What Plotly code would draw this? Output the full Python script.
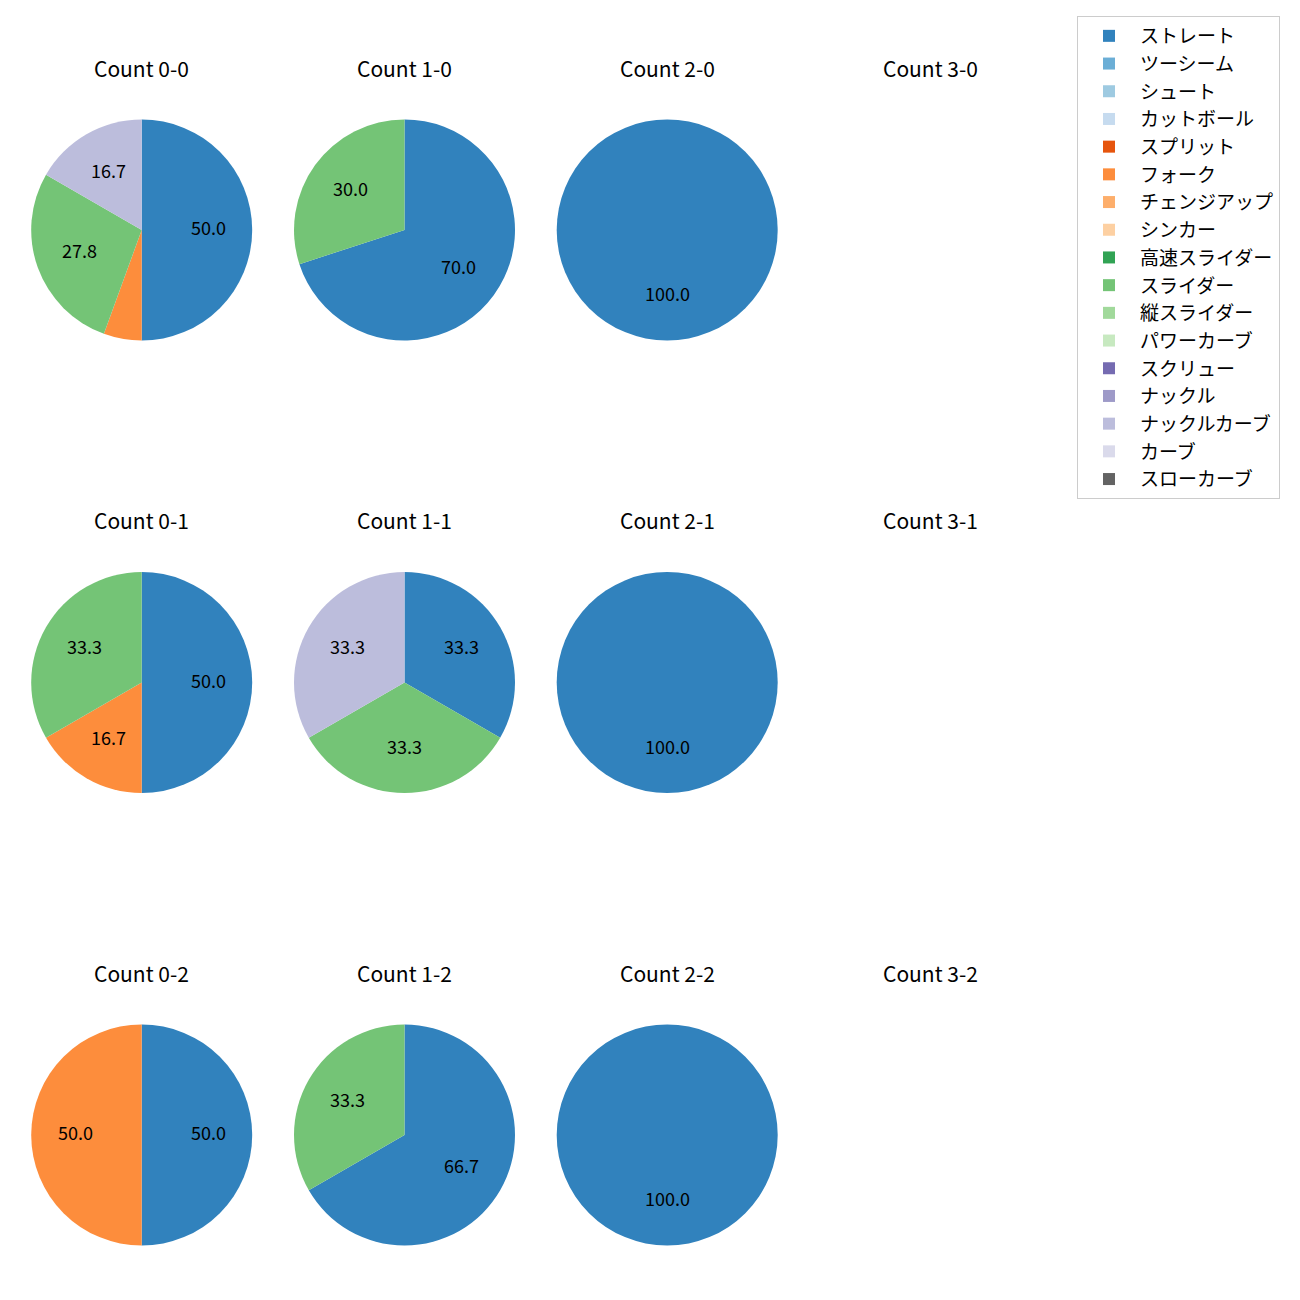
import math
import plotly.graph_objects as go

pitch_types = ["ストレート", "ツーシーム", "シュート", "カットボール", "スプリット", "フォーク",
               "チェンジアップ", "シンカー", "高速スライダー", "スライダー", "縦スライダー",
               "パワーカーブ", "スクリュー", "ナックル", "ナックルカーブ", "カーブ", "スローカーブ"]
pitch_colors = ["#3182bd", "#6baed6", "#9ecae1", "#c6dbef", "#e6550d", "#fd8d3c",
                "#fdae6b", "#fdd0a2", "#31a354", "#74c476", "#a1d99b", "#c7e9c0",
                "#756bb1", "#9e9ac8", "#bcbddc", "#dadaeb", "#636363"]

# pitch counts per ball-strike count
count_names = [["0-0", "1-0", "2-0", "3-0"],
               ["0-1", "1-1", "2-1", "3-1"],
               ["0-2", "1-2", "2-2", "3-2"]]
straight = {"0-0": 9, "1-0": 7, "2-0": 1, "0-1": 3, "1-1": 1, "2-1": 1, "0-2": 1, "1-2": 2, "2-2": 1}
fork = {"0-0": 1, "0-1": 1, "0-2": 1}
slider = {"0-0": 5, "1-0": 3, "0-1": 2, "1-1": 1, "1-2": 1}
knuckle_curve = {"0-0": 3, "1-1": 1}

W = H = 1300
OFF = 8  # page body margin
col_cx = [141.7, 404.5, 667.2, 930.0]
row_cy = [230.0, 682.5, 1135.0]
R = 110.5
title_offset = 162.0
label_shift = 3.0


def px(x):
    return (x - OFF) / W


def py(y):
    return 1 - (y - OFF) / H


fig = go.Figure()
annotations = []

for r, row in enumerate(count_names):
    for c, name in enumerate(row):
        cx, cy = col_cx[c], row_cy[r]
        annotations.append(dict(x=px(cx), y=py(cy - title_offset), xref="paper", yref="paper",
                                text=f"Count {name}", showarrow=False, xanchor="center", yanchor="middle",
                                font=dict(size=21, color="black")))
        vals = [0] * len(pitch_types)
        vals[pitch_types.index("ストレート")] = straight.get(name, 0)
        vals[pitch_types.index("フォーク")] = fork.get(name, 0)
        vals[pitch_types.index("スライダー")] = slider.get(name, 0)
        vals[pitch_types.index("ナックルカーブ")] = knuckle_curve.get(name, 0)
        total = sum(vals)
        if total == 0:
            continue
        fig.add_trace(go.Pie(
            labels=pitch_types, values=vals, sort=False, direction="clockwise", rotation=0,
            marker=dict(colors=pitch_colors, line=dict(width=0)),
            textinfo="none", textposition="none", hoverinfo="label+percent",
            domain=dict(x=[px(cx - R), px(cx + R)], y=[py(cy + R), py(cy - R)]),
            showlegend=(r == 0 and c == 0),
        ))
        cum = 0
        for v in vals:
            if v > 0:
                pct = 100 * v / total
                theta = math.radians(90 - 360 * (cum + v / 2) / total)
                if pct >= 10:
                    lx = cx + 0.6 * R * math.cos(theta)
                    ly = cy - 0.6 * R * math.sin(theta) - label_shift
                    annotations.append(dict(x=px(lx), y=py(ly), xref="paper", yref="paper",
                                            text=f"{pct:.1f}", showarrow=False, xanchor="center",
                                            yanchor="middle", font=dict(size=18, color="black")))
            cum += v

fig.update_layout(
    width=W, height=H, margin=dict(l=0, r=0, t=0, b=0),
    paper_bgcolor="white", plot_bgcolor="white",
    font=dict(family="Noto Sans CJK JP", color="black"),
    annotations=annotations,
    legend=dict(x=px(1077), y=py(16), xanchor="left", yanchor="top",
                bgcolor="white", bordercolor="#cccccc", borderwidth=1,
                font=dict(size=19), traceorder="normal", itemwidth=52),
)
fig.write_html("out.html")
